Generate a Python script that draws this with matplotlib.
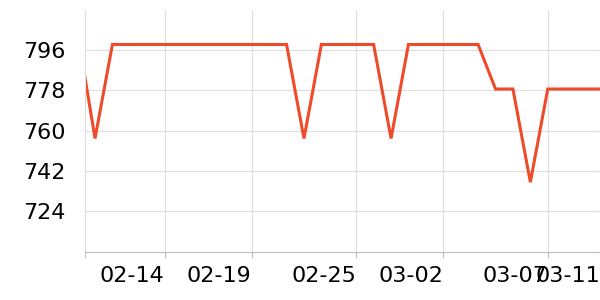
#!/usr/bin/env python3
# -*- coding: utf-8 -*-
"""
Линейный график значений по дням
"""

import matplotlib
matplotlib.use('Agg')
import matplotlib.pyplot as plt
import matplotlib.transforms as mtransforms

# Данные, по одной точке на отсчёт
values = [
    804.0, 756.5, 798.5, 798.5, 798.5, 798.5, 798.5, 798.5, 798.5, 798.5,
    798.5, 798.5, 798.5, 756.5, 798.5, 798.5, 798.5, 798.5, 756.5, 798.5,
    798.5, 798.5, 798.5, 798.5, 778.6, 778.6, 737.0, 778.6, 778.6, 778.6,
    778.6,
]
tick_pos = [5, 10, 16, 21, 27, 30]
tick_labels = ['02-14', '02-19', '02-25', '03-02', '03-07', '03-11']
y_ticks = [724, 742, 760, 778, 796]

x = list(range(len(values)))

fig = plt.figure(figsize=(6, 3), dpi=100)
ax = fig.add_axes([85 / 600, 48 / 300, 515 / 600, 242 / 300])

ax.plot(x, values, color='#EE4B2B', linewidth=2.2, solid_joinstyle='miter')

ax.set_xlim(0.425, 30)
ax.set_ylim(705.8, 813.9)

ax.set_yticks(y_ticks)
ax.set_xticks(tick_pos)
ax.set_xticklabels(tick_labels)
ax.set_xticks([0.425], minor=True)
shift = mtransforms.ScaledTranslation(-2 / 100, 0, fig.dpi_scale_trans)
for lbl in ax.get_xticklabels():
    lbl.set_horizontalalignment('right')
    lbl.set_transform(lbl.get_transform() + shift)

ax.grid(True, color='#DDDDDD', linewidth=0.8)
ax.set_axisbelow(True)

for side in ['top', 'right']:
    ax.spines[side].set_visible(False)
ax.spines['left'].set_color('#DDDDDD')
ax.spines['left'].set_linewidth(0.8)
ax.spines['bottom'].set_color('#BBBBBB')
ax.spines['bottom'].set_linewidth(0.8)

ax.tick_params(axis='y', length=0, pad=14, labelsize=16)
ax.tick_params(axis='x', which='both', length=4, color='#BBBBBB', pad=6, labelsize=16)

plt.savefig('out.png', dpi=100)
